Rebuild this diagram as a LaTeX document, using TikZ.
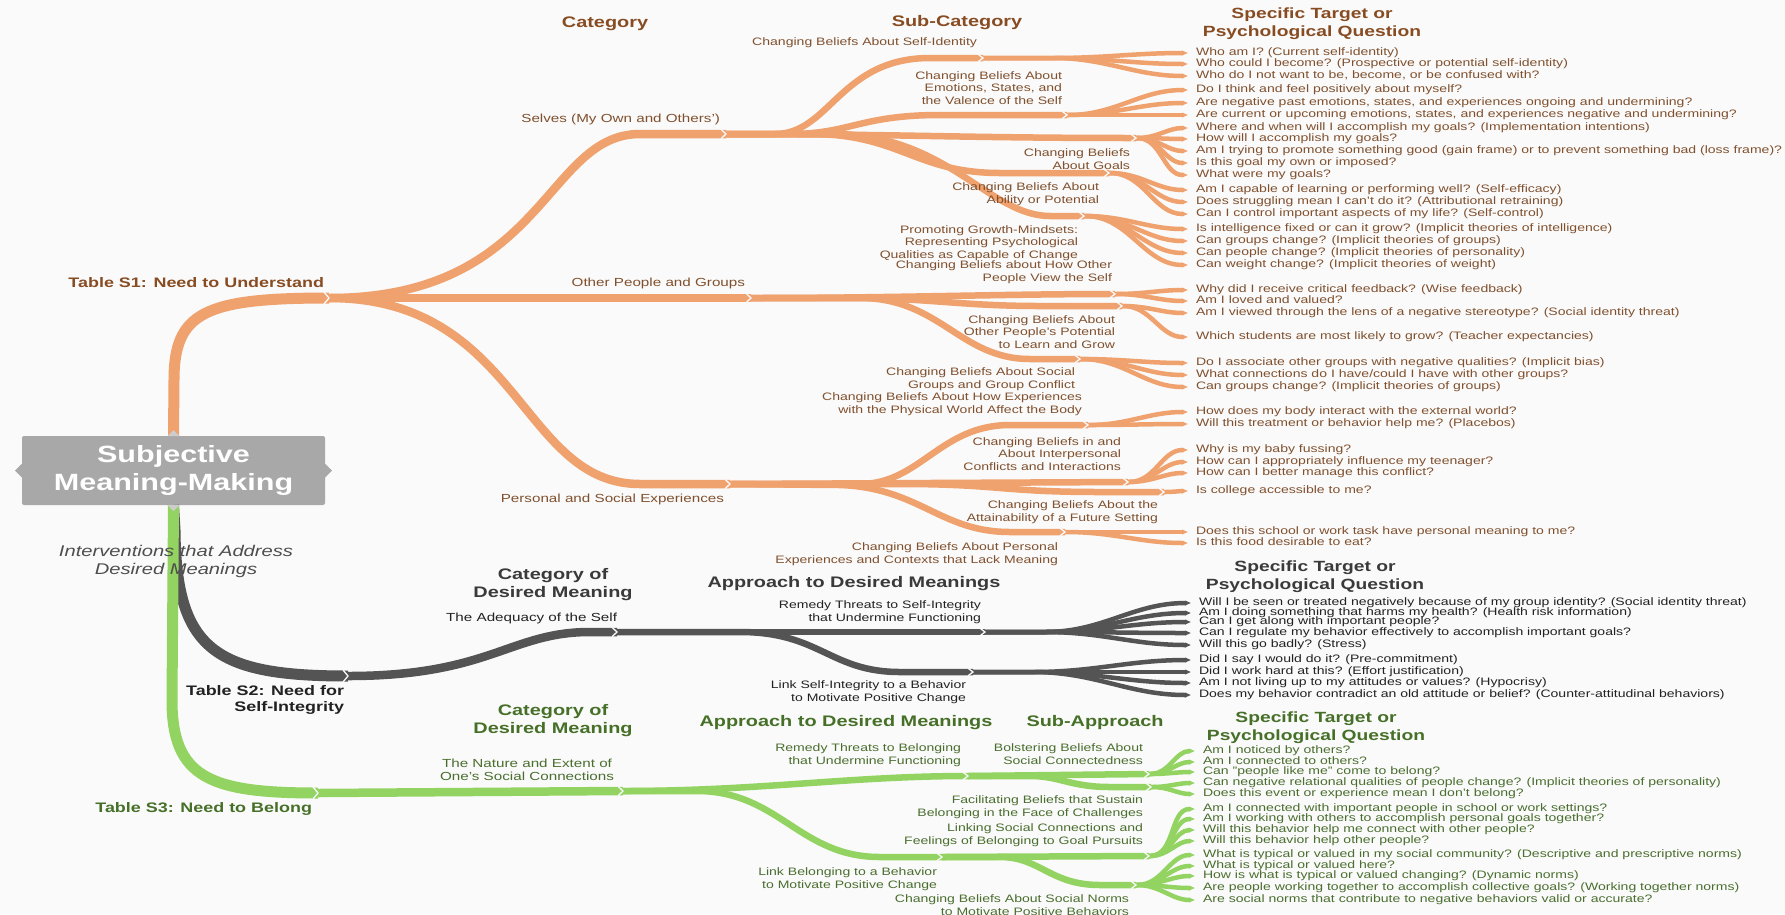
\documentclass[tikz,border=0pt]{standalone}
\usepackage{fontspec}
\setmainfont[FakeStretch=1.3]{Liberation Sans}
\usetikzlibrary{arrows.meta}

\definecolor{paper}{RGB}{250,250,250}
\definecolor{obr}{RGB}{239,161,110}
\definecolor{gbr}{RGB}{84,84,84}
\definecolor{ebr}{RGB}{146,211,97}
\definecolor{boxc}{RGB}{168,168,168}
\definecolor{tabc}{RGB}{205,205,205}
\definecolor{otx}{RGB}{128,80,46}
\definecolor{ohd}{RGB}{136,76,34}
\definecolor{gtx}{RGB}{34,34,34}
\definecolor{ghd}{RGB}{58,58,58}
\definecolor{etx}{RGB}{74,110,46}
\definecolor{ehd}{RGB}{70,112,40}
\definecolor{itx}{RGB}{78,78,78}

% leaves: from a junction to each question node
\newcommand\leafs[4]{\foreach \q in {#4}{\draw[#1] (#2) -- ++(#3,0) to[out=0,in=180] ([xshift=-8pt]\q.west);}}
% thin chevron cut where a branch hands over to its children
\newcommand\jnotch[2]{\draw[notchline] ([shift={(-5,-#2)}]#1) -- (#1) -- ([shift={(-5,#2)}]#1);}

\tikzset{
  every node/.style={inner sep=0pt, outer sep=0pt},
  otrunk/.style={draw=obr, line width=11pt},
  ocat/.style={draw=obr, line width=8.5pt},
  osub/.style={draw=obr, line width=6.5pt},
  oleaf/.style={draw=obr, line width=4.5pt, -{Triangle[length=0pt 1.3,width=0pt 1]}},
  gtrunk/.style={draw=gbr, line width=11pt},
  gcat/.style={draw=gbr, line width=8.5pt},
  gsub/.style={draw=gbr, line width=6.5pt},
  gleaf/.style={draw=gbr, line width=4.5pt, -{Triangle[length=0pt 1.3,width=0pt 1]}},
  etrunk/.style={draw=ebr, line width=11pt},
  ecat/.style={draw=ebr, line width=8.5pt},
  esub/.style={draw=ebr, line width=6.5pt},
  eleaf/.style={draw=ebr, line width=4.5pt, -{Triangle[length=0pt 1.3,width=0pt 1]}},
  notchline/.style={draw=paper, line width=1.3pt},
  qor/.style={anchor=west, text=otx, font=\fontsize{10.8}{12}\selectfont, text height=7.8pt, text depth=2.2pt},
  qgr/.style={anchor=west, text=gtx, font=\fontsize{10.8}{12}\selectfont, text height=7.8pt, text depth=2.2pt},
  qgn/.style={anchor=west, text=etx, font=\fontsize{10.8}{12}\selectfont, text height=7.8pt, text depth=2.2pt},
  lor/.style={anchor=east, align=right, text=otx, font=\fontsize{10.8}{12.5}\selectfont},
  lgr/.style={anchor=east, align=right, text=gtx, font=\fontsize{10.8}{12.5}\selectfont},
  lgn/.style={anchor=east, align=right, text=etx, font=\fontsize{10.8}{12.5}\selectfont},
  catlbl/.style={font=\fontsize{11.7}{13.5}\selectfont},
  hd/.style={align=center, font=\bfseries\fontsize{15.3}{18}\selectfont},
  sphd/.style={align=center, font=\bfseries\fontsize{14.8}{18}\selectfont},
  tb/.style={anchor=east, align=right, font=\bfseries\fontsize{13.8}{16}\selectfont},
}

\begin{document}
\begin{tikzpicture}[x=1pt, y=-1pt]
\useasboundingbox (0,0) rectangle (1785,914);
\fill[paper] (0,0) rectangle (1785,914);

% central node
\node[fill=boxc, rounded corners=2pt, minimum width=303pt, minimum height=69pt,
      text=white, align=center, font=\bfseries\fontsize{23.5}{28}\selectfont]
      (root) at (173.5,470.5) {Subjective\\Meaning-Making};

% junctions
\coordinate (S1) at (329,298);
\coordinate (Jsel) at (726,134);
\coordinate (Joth) at (751,298);
\coordinate (Jper) at (730,484);
\coordinate (Jid) at (983,58);
\coordinate (Jemo) at (1067,115);
\coordinate (Jgoal) at (1136,138);
\coordinate (Jabil) at (1109,173);
\coordinate (Jgrow) at (1084,216);
\coordinate (Jo1) at (1115,294);
\coordinate (Jo2) at (1122,306);
\coordinate (Jo3) at (1080,359);
\coordinate (Jp1) at (1088,425);
\coordinate (Jp2) at (1128,482);
\coordinate (Jp3) at (1164,492);
\coordinate (Jp4) at (1065,532);
\coordinate (S2) at (348,676);
\coordinate (Jadq) at (617,632);
\coordinate (Jg1) at (985,632);
\coordinate (Jg2) at (973,672);
\coordinate (S3) at (318,793);
\coordinate (Jnat) at (623,791);
\coordinate (Jn1) at (968,776);
\coordinate (Jn2) at (942,857);
\coordinate (Ja1) at (1149,774);
\coordinate (Ja2) at (1151,787);
\coordinate (Jb1) at (1149,856);
\coordinate (Jb2) at (1136,885);

% questions: need to understand
\node[qor] (q1) at (1196,53) {Who am I? (Current self-identity)};
\node[qor] (q2) at (1196,64) {Who could I become? (Prospective or potential self-identity)};
\node[qor] (q3) at (1196,76) {Who do I not want to be, become, or be confused with?};
\node[qor] (q4) at (1196,90) {Do I think and feel positively about myself?};
\node[qor] (q5) at (1196,103) {Are negative past emotions, states, and experiences ongoing and undermining?};
\node[qor] (q6) at (1196,115) {Are current or upcoming emotions, states, and experiences negative and undermining?};
\node[qor] (q7) at (1196,128) {Where and when will I accomplish my goals? (Implementation intentions)};
\node[qor] (q8) at (1196,139) {How will I accomplish my goals?};
\node[qor] (q9) at (1196,151) {Am I trying to promote something good (gain frame) or to prevent something bad (loss frame)?};
\node[qor] (q10) at (1196,163) {Is this goal my own or imposed?};
\node[qor] (q11) at (1196,175) {What were my goals?};
\node[qor] (q12) at (1196,190) {Am I capable of learning or performing well? (Self-efficacy)};
\node[qor] (q13) at (1196,202) {Does struggling mean I can't do it? (Attributional retraining)};
\node[qor] (q14) at (1196,214) {Can I control important aspects of my life? (Self-control)};
\node[qor] (q15) at (1196,229) {Is intelligence fixed or can it grow? (Implicit theories of intelligence)};
\node[qor] (q16) at (1196,241) {Can groups change? (Implicit theories of groups)};
\node[qor] (q17) at (1196,253) {Can people change? (Implicit theories of personality)};
\node[qor] (q18) at (1196,265) {Can weight change? (Implicit theories of weight)};
\node[qor] (q19) at (1196,290) {Why did I receive critical feedback? (Wise feedback)};
\node[qor] (q20) at (1196,301) {Am I loved and valued?};
\node[qor] (q21) at (1196,313) {Am I viewed through the lens of a negative stereotype? (Social identity threat)};
\node[qor] (q22) at (1196,337) {Which students are most likely to grow? (Teacher expectancies)};
\node[qor] (q23) at (1196,363) {Do I associate other groups with negative qualities? (Implicit bias)};
\node[qor] (q24) at (1196,375) {What connections do I have/could I have with other groups?};
\node[qor] (q25) at (1196,387) {Can groups change? (Implicit theories of groups)};
\node[qor] (q26) at (1196,412) {How does my body interact with the external world?};
\node[qor] (q27) at (1196,424) {Will this treatment or behavior help me? (Placebos)};
\node[qor] (q28) at (1196,450) {Why is my baby fussing?};
\node[qor] (q29) at (1196,462) {How can I appropriately influence my teenager?};
\node[qor] (q30) at (1196,473) {How can I better manage this conflict?};
\node[qor] (q31) at (1196,491) {Is college accessible to me?};
\node[qor] (q32) at (1196,532) {Does this school or work task have personal meaning to me?};
\node[qor] (q33) at (1196,543) {Is this food desirable to eat?};

% questions: need for self-integrity
\node[qgr] (g1) at (1199,603) {Will I be seen or treated negatively because of my group identity? (Social identity threat)};
\node[qgr] (g2) at (1199,613) {Am I doing something that harms my health? (Health risk information)};
\node[qgr] (g3) at (1199,622) {Can I get along with important people?};
\node[qgr] (g4) at (1199,633) {Can I regulate my behavior effectively to accomplish important goals?};
\node[qgr] (g5) at (1199,645) {Will this go badly? (Stress)};
\node[qgr] (g6) at (1199,660) {Did I say I would do it? (Pre-commitment)};
\node[qgr] (g7) at (1199,672) {Did I work hard at this? (Effort justification)};
\node[qgr] (g8) at (1199,683) {Am I not living up to my attitudes or values? (Hypocrisy)};
\node[qgr] (g9) at (1199,695) {Does my behavior contradict an old attitude or belief? (Counter-attitudinal behaviors)};

% questions: need to belong
\node[qgn] (e1) at (1203,751) {Am I noticed by others?};
\node[qgn] (e2) at (1203,762) {Am I connected to others?};
\node[qgn] (e3) at (1203,772) {Can "people like me" come to belong?};
\node[qgn] (e4) at (1203,783) {Can negative relational qualities of people change? (Implicit theories of personality)};
\node[qgn] (e5) at (1203,794) {Does this event or experience mean I don't belong?};
\node[qgn] (e6) at (1203,809) {Am I connected with important people in school or work settings?};
\node[qgn] (e7) at (1203,819) {Am I working with others to accomplish personal goals together?};
\node[qgn] (e8) at (1203,830) {Will this behavior help me connect with other people?};
\node[qgn] (e9) at (1203,841) {Will this behavior help other people?};
\node[qgn] (e10) at (1203,855) {What is typical or valued in my social community? (Descriptive and prescriptive norms)};
\node[qgn] (e11) at (1203,866) {What is typical or valued here?};
\node[qgn] (e12) at (1203,876) {How is what is typical or valued changing? (Dynamic norms)};
\node[qgn] (e13) at (1203,888) {Are people working together to accomplish collective goals? (Working together norms)};
\node[qgn] (e14) at (1203,900) {Are social norms that contribute to negative behaviors valid or accurate?};

% ---------- self-integrity branch (under the belonging trunk)
\draw[gtrunk] (root.south) -- (175,530) .. controls (176,650) and (215,676) .. (S2);
\draw[gcat] (S2) .. controls (490,676) and (510,632) .. (590,632) -- (Jadq);
\draw[gsub] (Jadq) -- (Jg1);
\draw[gsub] (Jadq) -- (740,632) .. controls (820,632) and (830,672) .. (900,672) -- (Jg2);
\leafs{gleaf}{Jg1}{60}{g1,g2,g3,g4,g5}
\leafs{gleaf}{Jg2}{60}{g6,g7,g8,g9}

% ---------- belonging branch
\draw[etrunk] (root.south) -- (172,700) .. controls (172,778) and (210,793) .. (S3);
\draw[ecat] (S3) -- (Jnat);
\draw[esub] (Jnat) .. controls (760,791) and (850,776) .. (Jn1);
\draw[esub] (Jnat) -- (700,791) .. controls (780,793) and (800,857) .. (880,857) -- (Jn2);
\draw[esub] (Jn1) -- (Ja1);
\draw[esub] (Jn1) -- (1030,776) .. controls (1060,776) and (1070,787) .. (1110,787) -- (Ja2);
\draw[esub] (Jn2) -- (Jb1);
\draw[esub] (Jn2) -- (1000,857) .. controls (1040,857) and (1050,885) .. (1100,885) -- (Jb2);
\leafs{eleaf}{Ja1}{1}{e1,e2,e3}
\leafs{eleaf}{Ja2}{1}{e4,e5}
\leafs{eleaf}{Jb1}{1}{e6,e7,e8,e9}
\leafs{eleaf}{Jb2}{1}{e10,e11,e12,e13,e14}

% ---------- understanding branch
\draw[otrunk] (root.north) -- (174,380) .. controls (174,312) and (205,298) .. (S1);
\draw[ocat] (S1) .. controls (545,298) and (545,134) .. (640,134) -- (Jsel);
\draw[ocat] (S1) -- (Joth);
\draw[ocat] (S1) .. controls (520,298) and (520,484) .. (640,484) -- (Jper);

\draw[osub] (Jsel) -- (775,134) .. controls (830,134) and (840,58) .. (930,58) -- (Jid);
\draw[osub] (Jsel) -- (790,134) .. controls (850,134) and (860,115) .. (940,115) -- (Jemo);
\draw[osub] (Jsel) .. controls (900,134) and (960,138) .. (Jgoal);
\draw[osub] (Jsel) -- (810,134) .. controls (900,134) and (915,173) .. (1000,173) -- (Jabil);
\draw[osub] (Jsel) -- (840,134) .. controls (950,138) and (990,216) .. (1050,216) -- (Jgrow);

\draw[osub] (Joth) .. controls (900,298) and (1000,294) .. (Jo1);
\draw[osub] (Joth) -- (850,298) .. controls (930,298) and (960,306) .. (1040,306) -- (Jo2);
\draw[osub] (Joth) -- (860,298) .. controls (940,298) and (960,359) .. (1030,359) -- (Jo3);

\draw[osub] (Jper) -- (860,484) .. controls (920,484) and (940,425) .. (1010,425) -- (Jp1);
\draw[osub] (Jper) -- (Jp2);
\draw[osub] (Jper) -- (900,484) .. controls (1000,484) and (1000,492) .. (1100,492) -- (Jp3);
\draw[osub] (Jper) -- (840,485) .. controls (920,488) and (940,532) .. (1010,532) -- (Jp4);

\leafs{oleaf}{Jid}{70}{q1,q2,q3}
\leafs{oleaf}{Jemo}{1}{q4,q5,q6}
\leafs{oleaf}{Jgoal}{1}{q7,q8,q9,q10,q11}
\leafs{oleaf}{Jabil}{1}{q12,q13,q14}
\leafs{oleaf}{Jgrow}{1}{q15,q16,q17,q18}
\leafs{oleaf}{Jo1}{1}{q19,q20}
\leafs{oleaf}{Jo2}{1}{q21,q22}
\leafs{oleaf}{Jo3}{1}{q23,q24,q25}
\leafs{oleaf}{Jp1}{1}{q26,q27}
\leafs{oleaf}{Jp2}{1}{q28,q29,q30}
\leafs{oleaf}{Jp3}{1}{q31}
\leafs{oleaf}{Jp4}{1}{q32,q33}

% junction cuts
\jnotch{S1}{6}
\foreach \j in {Jsel,Joth,Jper} {\jnotch{\j}{4.7}}
\foreach \j in {Jid,Jemo,Jgoal,Jabil,Jgrow,Jo1,Jo2,Jo3,Jp1,Jp2,Jp3,Jp4} {\jnotch{\j}{3.8}}
\jnotch{S2}{6}
\jnotch{S3}{6}
\jnotch{Jadq}{4.7}
\jnotch{Jnat}{4.7}
\foreach \j in {Jg1,Jg2,Jn1,Jn2,Ja1,Ja2,Jb1,Jb2} {\jnotch{\j}{3.8}}

% tabs of the central node
\fill[boxc] ([shift={(0,-7)}]root.west) -- ([shift={(-7,0)}]root.west) -- ([shift={(0,7)}]root.west) -- cycle;
\fill[boxc] ([shift={(0,-7)}]root.east) -- ([shift={(7,0)}]root.east) -- ([shift={(0,7)}]root.east) -- cycle;
\fill[tabc] ([shift={(-6,0)}]root.north) -- ([shift={(0,-6)}]root.north) -- ([shift={(6,0)}]root.north) -- cycle;
\fill[tabc] ([shift={(-6,0)}]root.south) -- ([shift={(0,6)}]root.south) -- ([shift={(6,0)}]root.south) -- cycle;

% headings
\node[hd, text=ohd] (hcat) at (605,24) {Category};
\node[hd, text=ohd] (hsub) at (957,23) {Sub-Category};
\node[sphd, text=ohd] (hspo) at (1312,24) {Specific Target or\\Psychological Question};
\node[hd, text=ghd] (hcgr) at (553,585) {Category of\\Desired Meaning};
\node[hd, text=ghd] (hagr) at (854,584) {Approach to Desired Meanings};
\node[sphd, text=ghd] (hsgr) at (1315,577) {Specific Target or\\Psychological Question};
\node[hd, text=ehd] (hcgn) at (553,721) {Category of\\Desired Meaning};
\node[hd, text=ehd] (hagn) at (846,723) {Approach to Desired Meanings};
\node[hd, text=ehd] (hsa) at (1095,723) {Sub-Approach};
\node[sphd, text=ehd] (hsgn) at (1316,728) {Specific Target or\\Psychological Question};

% table labels
\node[tb, text=ohd] (t1) at (324,283) {Table S1: Need to Understand};
\node[tb, text=gtx] (t2) at (344,700) {Table S2: Need for\\Self-Integrity};
\node[tb, text=ehd] (t3) at (312,809) {Table S3: Need to Belong};
\node[align=center, text=itx, font=\itshape\fontsize{15.5}{18}\selectfont] (intv) at (176,561)
     {Interventions that Address\\Desired Meanings};

% branch labels: understanding
\node[lor, catlbl] at (720,119) {Selves (My Own and Others')};
\node[lor] at (977,43) {Changing Beliefs About Self-Identity};
\node[lor] at (1062,88) {Changing Beliefs About\\Emotions, States, and\\the Valence of the Self};
\node[lor] at (1130,159) {Changing Beliefs\\About Goals};
\node[lor] at (1099,194) {Changing Beliefs About\\Ability or Potential};
\node[lor] at (1078,243) {Promoting Growth-Mindsets:\\Representing Psychological\\Qualities as Capable of Change};
\node[lor] at (1112,272) {Changing Beliefs about How Other\\People View the Self};
\node[lor, catlbl] at (745,283) {Other People and Groups};
\node[lor] at (1115,332) {Changing Beliefs About\\Other People's Potential\\to Learn and Grow};
\node[lor] at (1075,379) {Changing Beliefs About Social\\Groups and Group Conflict};
\node[lor] at (1082,404) {Changing Beliefs About How Experiences\\with the Physical World Affect the Body};
\node[lor] at (1121,454) {Changing Beliefs in and\\About Interpersonal\\Conflicts and Interactions};
\node[lor, catlbl] at (724,499) {Personal and Social Experiences};
\node[lor] at (1158,512) {Changing Beliefs About the\\Attainability of a Future Setting};
\node[lor] at (1058,554) {Changing Beliefs About Personal\\Experiences and Contexts that Lack Meaning};

% branch labels: self-integrity
\node[lgr, catlbl] at (617,618) {The Adequacy of the Self};
\node[lgr] at (981,612) {Remedy Threats to Self-Integrity\\that Undermine Functioning};
\node[lgr] at (966,692) {Link Self-Integrity to a Behavior\\to Motivate Positive Change};

% branch labels: belonging
\node[align=center, text=etx, catlbl] at (527,770) {The Nature and Extent of\\One's Social Connections};
\node[lgn] at (961,755) {Remedy Threats to Belonging\\that Undermine Functioning};
\node[lgn] at (1143,754) {Bolstering Beliefs About\\Social Connectedness};
\node[lgn] at (1143,807) {Facilitating Beliefs that Sustain\\Belonging in the Face of Challenges};
\node[lgn] at (1143,835) {Linking Social Connections and\\Feelings of Belonging to Goal Pursuits};
\node[lgn] at (937,879) {Link Belonging to a Behavior\\to Motivate Positive Change};
\node[lgn] at (1129,905) {Changing Beliefs About Social Norms\\to Motivate Positive Behaviors};
\end{tikzpicture}
\end{document}
